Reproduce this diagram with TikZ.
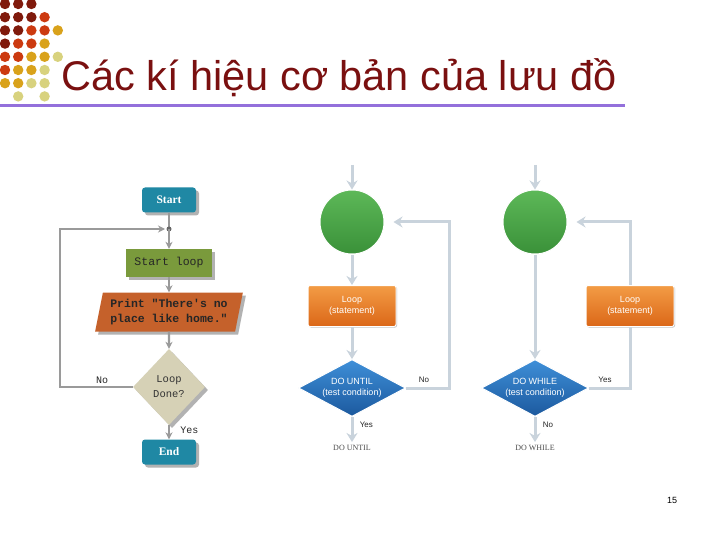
\documentclass[tikz,border=0pt]{standalone}
\usepackage{fontspec}
\setmainfont{Liberation Sans}
\newfontfamily\codefont{Liberation Mono}
\newfontfamily\romanfont{Liberation Serif}
\usepackage{tikz}
\usetikzlibrary{arrows.meta, shapes, positioning, calc, shadows}

\definecolor{dotdark}{HTML}{801A0C}
\definecolor{dotred}{HTML}{CC3A10}
\definecolor{dotgold}{HTML}{D9A21B}
\definecolor{dotpale}{HTML}{D8D27E}
\definecolor{titlered}{HTML}{7A1010}
\definecolor{rulepurple}{HTML}{9370DB}
\definecolor{tealbox}{HTML}{1F88A4}
\definecolor{olivebox}{HTML}{7A9A3C}
\definecolor{rustbox}{HTML}{C5612B}
\definecolor{tanbox}{HTML}{D6D1B6}
\definecolor{flowgray}{HTML}{9A9A9A}
\definecolor{paleline}{HTML}{C9D3DC}
\definecolor{orangetop}{HTML}{F39C45}
\definecolor{orangebot}{HTML}{DB6718}
\definecolor{bluetop}{HTML}{3E8FD8}
\definecolor{bluebot}{HTML}{1C599E}
\definecolor{greentop}{HTML}{5DB858}
\definecolor{greenbot}{HTML}{3A9139}

\begin{document}
\begin{tikzpicture}[
  x=1pt, y=-1pt,
  boxshadow/.style={drop shadow={shadow xshift=3pt, shadow yshift=-3pt,
                    fill=black!30, opacity=1}},
  terminal/.style={rectangle, rounded corners=3pt, fill=tealbox, text=white,
                   minimum width=54pt, minimum height=25pt, inner sep=0pt,
                   font=\romanfont\bfseries\fontsize{11.5}{12}\selectfont, boxshadow},
  process/.style={rectangle, fill=olivebox, text=black!85,
                  minimum width=86pt, minimum height=28pt, inner sep=0pt,
                  font=\codefont\fontsize{11.5}{12}\selectfont, boxshadow},
  inout/.style={trapezium, trapezium left angle=75, trapezium right angle=105,
                trapezium stretches=true, fill=rustbox, text=black!85,
                minimum width=148pt, minimum height=39pt, inner sep=0pt,
                align=center, font=\codefont\bfseries\fontsize{11.5}{15}\selectfont,
                boxshadow},
  check/.style={diamond, fill=tanbox, text=black!80, minimum width=72pt,
                minimum height=76pt, inner sep=0pt, align=center,
                font=\codefont\fontsize{10.5}{15}\selectfont, boxshadow},
  loopstart/.style={circle, draw=white, line width=1pt, top color=greentop,
                    bottom color=greenbot, minimum size=64pt, inner sep=0pt},
  loopbody/.style={rectangle, rounded corners=2pt, draw=white, line width=1pt,
                   top color=orangetop, bottom color=orangebot, text=white,
                   minimum width=88pt, minimum height=41pt, inner sep=0pt,
                   align=center, font=\fontsize{9}{11}\selectfont,
                   drop shadow={shadow xshift=1pt, shadow yshift=-1pt,
                   fill=black!25, opacity=1}},
  looptest/.style={diamond, draw=white, line width=1pt, top color=bluetop,
                   bottom color=bluebot, text=white, minimum width=107pt,
                   minimum height=57pt, shape aspect=1.9, inner sep=0pt,
                   align=center, font=\fontsize{9}{11}\selectfont},
  grayarrow/.style={draw=flowgray, line width=2.2pt,
                    -{Stealth[length=7pt, width=7pt]}},
  grayline/.style={draw=flowgray, line width=2.2pt},
  palearrow/.style={draw=paleline, line width=3pt,
                    -{Stealth[length=9pt, width=11pt]}},
  paleline/.style={draw=paleline, line width=3pt},
  tag/.style={font=\fontsize{8}{9}\selectfont, text=black!85},
  codetag/.style={font=\codefont\fontsize{10}{11}\selectfont, text=black!85},
  endtag/.style={font=\romanfont\fontsize{8}{9}\selectfont, text=black!70},
]
\useasboundingbox (0,0) rectangle (720,540);
\fill[white] (0,0) rectangle (720,540);

% title block
\foreach \c/\r/\col in {0/0/dotdark, 1/0/dotdark, 2/0/dotdark,
    0/1/dotdark, 1/1/dotdark, 2/1/dotdark, 3/1/dotred,
    0/2/dotdark, 1/2/dotdark, 2/2/dotred, 3/2/dotred, 4/2/dotgold,
    0/3/dotdark, 1/3/dotred, 2/3/dotred, 3/3/dotgold,
    0/4/dotred, 1/4/dotred, 2/4/dotgold, 3/4/dotgold, 4/4/dotpale,
    0/5/dotred, 1/5/dotgold, 2/5/dotgold, 3/5/dotpale,
    0/6/dotgold, 1/6/dotgold, 2/6/dotpale, 3/6/dotpale,
    1/7/dotpale, 3/7/dotpale}
  \fill[\col] (5+13.2*\c, 4+13.2*\r) circle (5.2);
\node[anchor=base west, inner sep=0pt, text=titlered,
      font=\fontsize{41.5}{44}\selectfont] (title) at (61,91)
  {Các kí hiệu cơ bản của lưu đồ};
\draw[rulepurple, line width=3pt] (0,106) -- (625,106);
\node[font=\fontsize{9}{10}\selectfont] (page) at (672,500) {15};

% generic loop
\node[terminal] (start) at (169,200) {Start};
\coordinate (merge) at (169,229);
\node[process] (startloop) at (169,263) {Start loop};
\node[inout]   (print)     at (169,312)
  {Print "There's no\\place like home."};
\node[check]   (done)      at (169,387) {Loop\\Done?};
\node[terminal] (finish)   at (169,452) {End};
\coordinate (backcorner) at (60,229);
\draw[grayline] (start) -- (merge);
\fill[black!60] (merge) circle (2.5);
\draw[grayarrow] (merge) -- (startloop);
\draw[grayarrow] (startloop) -- (print);
\draw[grayarrow] (print) -- (done);
\draw[grayarrow] (done) -- node[codetag, right=7pt, pos=0.35] {Yes} (finish);
\draw[grayarrow, shorten >=4pt] (done.west) -| (backcorner) -- (merge);
\node[codetag] (nolabel) at (102,380) {No};

% DO UNTIL
\coordinate (untilin) at (352,165);
\node[loopstart] (untilcirc) at (352,222) {};
\node[loopbody]  (untilbody) at (352,306) {Loop\\(statement)};
\node[looptest]  (untiltest) at (352,388) {DO UNTIL\\(test condition)};
\coordinate (untilout) at (352,442);
\coordinate (untilcorner) at (449,388);
\draw[palearrow] (untilin) -- (untilcirc);
\draw[palearrow] (untilcirc) -- (untilbody);
\draw[palearrow] (untilbody) -- (untiltest);
\draw[palearrow] (untiltest) -- node[tag, right=3pt, pos=0.3] {Yes} (untilout);
\draw[palearrow, shorten >=9pt] (untiltest.east) -- (untilcorner) |- (untilcirc.east);
\node[tag] (untilno) at (424,380) {No};
\node[endtag] (untilname) at (352,448) {DO UNTIL};

% DO WHILE
\coordinate (whilein) at (535,165);
\node[loopstart] (whilecirc) at (535,222) {};
\node[looptest]  (whiletest) at (535,388) {DO WHILE\\(test condition)};
\node[loopbody]  (whilebody) at (630,306) {Loop\\(statement)};
\coordinate (whileout) at (535,442);
\draw[palearrow] (whilein) -- (whilecirc);
\draw[palearrow] (whilecirc) -- (whiletest);
\draw[paleline] (whiletest.east) -| (whilebody.south);
\draw[palearrow, shorten >=9pt] (whilebody.north) |- (whilecirc.east);
\draw[palearrow] (whiletest) -- node[tag, right=3pt, pos=0.3] {No} (whileout);
\node[tag] (whileyes) at (605,380) {Yes};
\node[endtag] (whilename) at (535,448) {DO WHILE};
\end{tikzpicture}
\end{document}
